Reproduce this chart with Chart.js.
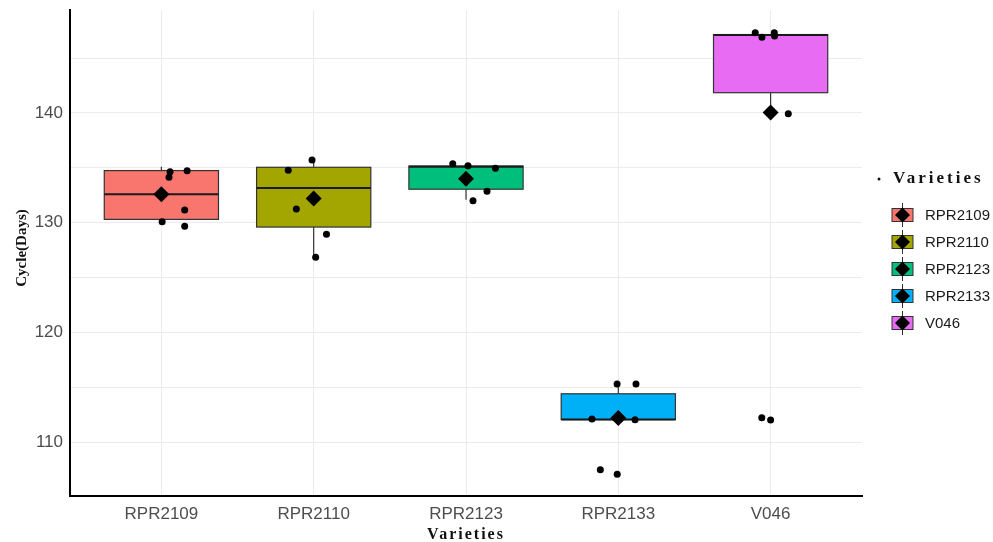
<!DOCTYPE html>
<html>
<head>
<meta charset="utf-8">
<script src="https://cdn.jsdelivr.net/npm/chart.js@4.4.0/dist/chart.umd.min.js"></script>
<style>
    html, body { margin: 0; padding: 0; background: #fff; }
    #wrap { width: 993px; height: 542px; }
</style>
</head>
<body>
<div id="wrap"><canvas id="myChart" width="993" height="542"></canvas></div>
<script>
(function() {
    'use strict';

    // box plot summary per variety
    var categories = ['RPR2109', 'RPR2110', 'RPR2123', 'RPR2133', 'V046'];
    var colors = ['#F8766D', '#A3A500', '#00BF7D', '#00B0F6', '#E76BF3'];
    var q1 = [130.3, 129.6, 133.05, 112.05, 141.85];
    var medians = [132.6, 133.15, 135.1, 112.05, 147.1];
    var q3 = [134.75, 135.05, 135.17, 114.4, 147.15];
    var whiskerLow = [130.3, 126.85, 132.1, 112.05, 140.3];
    var whiskerHigh = [135.1, 135.7, 135.17, 115.3, 147.15];
    var means = [132.6, 132.2, 134.0, 112.2, 140.05];

    // jittered observations
    var pointCategory = [0, 0, 0, 0, 0, 0,
                         1, 1, 1, 1, 1,
                         2, 2, 2, 2, 2,
                         3, 3, 3, 3, 3, 3,
                         4, 4, 4, 4, 4, 4, 4];
    var pointJitter = [0.057, 0.05, 0.169, 0.153, 0.005, 0.153,
                       -0.011, -0.167, -0.114, 0.084, 0.013,
                       -0.087, 0.013, 0.193, 0.138, 0.046,
                       -0.173, 0.11, -0.008, 0.116, -0.118, -0.007,
                       -0.101, -0.057, 0.024, 0.026, 0.116, -0.058, 0.0];
    var pointValue = [134.65, 134.14, 134.74, 131.16, 130.09, 129.67,
                      135.72, 134.78, 131.25, 128.94, 126.85,
                      135.38, 135.2, 134.96, 132.86, 132.0,
                      112.1, 112.04, 115.3, 115.3, 107.48, 107.06,
                      147.32, 146.9, 147.32, 147.02, 139.94, 112.22, 112.0];

    var yTicks = [110, 115, 120, 125, 130, 135, 140, 145];

    var boxHalf = 0.375;
    var ctx = document.getElementById('myChart');

    var pointData = pointValue.map(function(v, i) {
        return { x: pointCategory[i] + pointJitter[i], y: v };
    });
    var meanData = means.map(function(v, i) {
        return { x: i, y: v };
    });

    //boxes and whiskers, drawn under the points
    var boxPlugin = {
        id: 'boxes',
        beforeDatasetsDraw: function(chart) {
            var c = chart.ctx;
            var x = chart.scales.x;
            var y = chart.scales.y;
            categories.forEach(function(name, i) {
                var left = x.getPixelForValue(i - boxHalf);
                var right = x.getPixelForValue(i + boxHalf);
                var mid = x.getPixelForValue(i);
                var top = y.getPixelForValue(q3[i]);
                var bot = y.getPixelForValue(q1[i]);
                var med = y.getPixelForValue(medians[i]);
                c.save();
                c.strokeStyle = '#333333';
                c.lineWidth = 1.2;
                c.beginPath();
                c.moveTo(mid, top);
                c.lineTo(mid, y.getPixelForValue(whiskerHigh[i]));
                c.moveTo(mid, bot);
                c.lineTo(mid, y.getPixelForValue(whiskerLow[i]));
                c.stroke();
                c.fillStyle = colors[i];
                c.fillRect(left, top, right - left, bot - top);
                c.strokeRect(left, top, right - left, bot - top);
                c.strokeStyle = '#1a1a1a';
                c.lineWidth = 2;
                c.beginPath();
                c.moveTo(left, med);
                c.lineTo(right, med);
                c.stroke();
                c.restore();
            });
        }
    };

    //axis titles and legend
    var decorPlugin = {
        id: 'decor',
        afterDraw: function(chart) {
            var c = chart.ctx;
            var area = chart.chartArea;
            c.save();
            c.fillStyle = '#111';
            c.textAlign = 'center';
            c.textBaseline = 'middle';

            c.font = 'bold 16px "Liberation Serif", serif';
            c.letterSpacing = '2px';
            c.fillText('Varieties', (area.left + area.right) / 2, 535);

            c.letterSpacing = '0px';
            c.font = 'bold 15px "Liberation Serif", serif';
            c.translate(22, 248);
            c.rotate(-Math.PI / 2);
            c.fillText('Cycle(Days)', 0, 0);
            c.setTransform(1, 0, 0, 1, 0, 0);

            // legend
            c.beginPath();
            c.arc(879, 179, 1.5, 0, Math.PI * 2);
            c.fill();
            c.textAlign = 'left';
            c.font = 'bold 17px "Liberation Serif", serif';
            c.letterSpacing = '3px';
            c.fillText('Varieties', 893, 179);
            c.letterSpacing = '0px';

            c.font = '15px "Liberation Sans", Arial, sans-serif';
            categories.forEach(function(name, i) {
                var cy = 215 + i * 27;
                c.fillStyle = colors[i];
                c.fillRect(892, cy - 6.5, 21, 13);
                c.strokeStyle = '#333';
                c.lineWidth = 1;
                c.strokeRect(892, cy - 6.5, 21, 13);
                c.beginPath();
                c.moveTo(902.5, cy - 12);
                c.lineTo(902.5, cy + 12);
                c.stroke();
                c.fillStyle = '#000';
                c.beginPath();
                c.moveTo(902.5, cy - 7.5);
                c.lineTo(910, cy);
                c.lineTo(902.5, cy + 7.5);
                c.lineTo(895, cy);
                c.closePath();
                c.fill();
                c.fillStyle = '#1a1a1a';
                c.fillText(name, 925, cy + 1);
            });
            c.restore();
        }
    };

    new Chart(ctx, {
        type: 'scatter',
        data: {
            datasets: [{
                label: 'Mean',
                data: meanData,
                pointStyle: 'rectRot',
                radius: 8,
                backgroundColor: '#000',
                borderWidth: 0
            },
            {
                label: 'Observations',
                data: pointData,
                radius: 3.5,
                backgroundColor: '#000',
                borderWidth: 0
            }]
        },
        options: {
            responsive: false,
            animation: false,
            layout: { padding: { top: 10, right: 131, left: 0, bottom: 0 } },
            plugins: {
                legend: { display: false },
                tooltip: { enabled: false }
            },
            scales: {
                x: {
                    type: 'linear',
                    min: -0.6,
                    max: 4.6,
                    afterBuildTicks: function(scale) {
                        scale.ticks = categories.map(function(n, i) { return { value: i }; });
                    },
                    afterFit: function(scale) {
                        scale.height = 46;
                        scale.paddingLeft = 0;
                        scale.paddingRight = 0;
                    },
                    ticks: {
                        callback: function(v) { return categories[v]; },
                        font: { family: '"Liberation Sans", Arial, sans-serif', size: 17 },
                        color: '#4d4d4d',
                        padding: 8,
                        maxRotation: 0,
                        autoSkip: false
                    },
                    grid: { color: '#ebebeb', drawTicks: false },
                    border: { color: '#000', width: 2 }
                },
                y: {
                    type: 'linear',
                    min: 105.08,
                    max: 149.39,
                    afterBuildTicks: function(scale) {
                        scale.ticks = yTicks.map(function(v) { return { value: v }; });
                    },
                    afterFit: function(scale) {
                        scale.width = 70;
                        scale.paddingTop = 0;
                        scale.paddingBottom = 0;
                    },
                    ticks: {
                        callback: function(v) { return v % 10 === 0 ? v : ''; },
                        font: { family: '"Liberation Sans", Arial, sans-serif', size: 17 },
                        color: '#4d4d4d',
                        padding: 7
                    },
                    grid: { color: '#ebebeb', drawTicks: false },
                    border: { color: '#000', width: 2 }
                }
            }
        },
        plugins: [boxPlugin, decorPlugin]
    });
})();
</script>
</body>
</html>
